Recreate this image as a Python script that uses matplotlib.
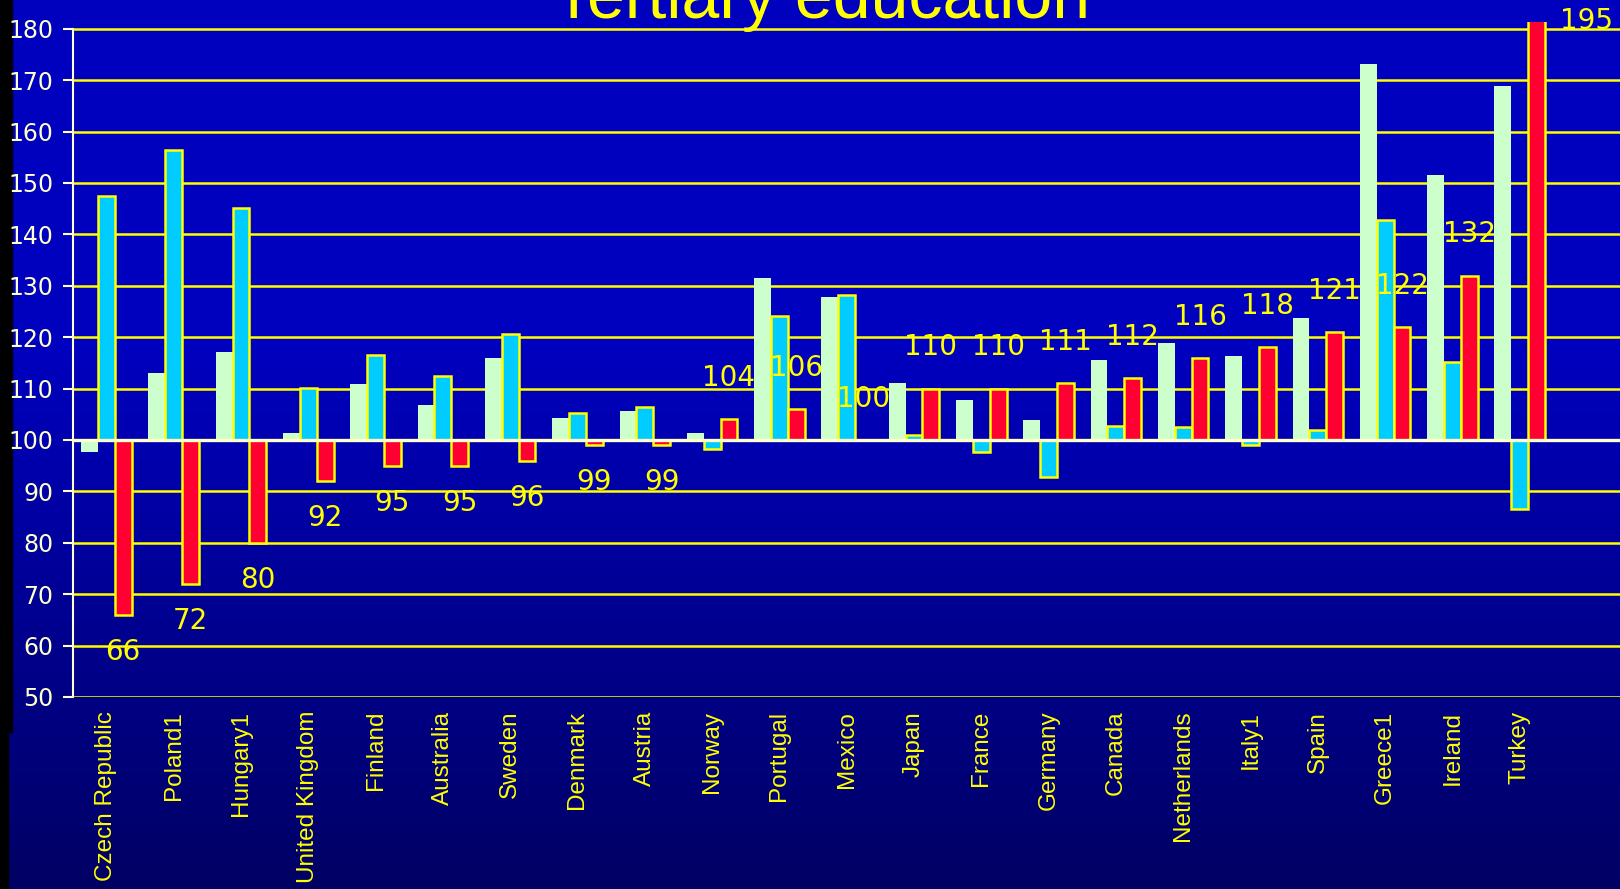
import numpy as np
import matplotlib
matplotlib.use("Agg")
import matplotlib.pyplot as plt
from matplotlib.patches import Rectangle

# country groups, left to right
countries = ["Czech Republic", "Poland1", "Hungary1", "United Kingdom", "Finland",
             "Australia", "Sweden", "Denmark", "Austria", "Norway", "Portugal",
             "Mexico", "Japan", "France", "Germany", "Canada", "Netherlands",
             "Italy1", "Spain", "Greece1", "Ireland", "Turkey"]

# index values (100 = baseline)
green_vals = [97.6, 113, 117.1, 101.3, 110.9, 106.8, 115.9, 104.2, 105.6, 101.3, 131.5,
              127.8, 111.0, 107.8, 103.9, 115.5, 118.9, 116.3, 123.8, 173.2, 151.6, 168.9]
cyan_vals = [147.5, 156.4, 145.1, 110.1, 116.5, 112.5, 120.6, 105.2, 106.4, 98.2, 124.2,
             128.3, 100.9, 97.7, 92.8, 102.8, 102.6, 99.0, 102.0, 142.8, 115.1, 86.5]
red_vals = [66, 72, 80, 92, 95, 95, 96, 99, 99, 104, 106,
            100, 110, 110, 111, 112, 116, 118, 121, 122, 132, 195]

yticks = list(range(50, 190, 10))

YELLOW = "#FFFF00"
CREAM = "#FFFFCC"

fig = plt.figure(figsize=(16.2, 8.89), dpi=100)

# background: blue gradient plus black strip on the left
bg = fig.add_axes([0, 0, 1, 1], zorder=-10)
bg.set_axis_off()
rows = np.linspace(0, 1, 400)
shade = np.where(rows < 0.39, 0.75, 0.75 - (rows - 0.39) / 0.61 * 0.36)
grad = np.zeros((400, 1, 3))
grad[:, 0, 2] = shade
bg.imshow(grad, aspect="auto", extent=[0, 1, 0, 1], origin="upper")
bg.add_patch(Rectangle((0, 1 - 732 / 889), 12 / 1620, 732 / 889, color="black"))
bg.add_patch(Rectangle((0, 0), 8 / 1620, 1 - 732 / 889, color="black"))
bg.set_xlim(0, 1)
bg.set_ylim(0, 1)

ax = fig.add_axes([0.0449, 0.216, 0.9551, 0.7597])
ax.set_facecolor("none")

x = np.arange(len(countries))
w = 0.25
base = 100
ax.bar(x - w, np.array(green_vals) - base, w, bottom=base, color="#CCFFCC",
       edgecolor="none", zorder=3)
ax.bar(x, np.array(cyan_vals) - base, w, bottom=base, color="#00CCFF",
       edgecolor=YELLOW, linewidth=1.8, zorder=3)
ax.bar(x + w, np.array(red_vals) - base, w, bottom=base, color="#FF0033",
       edgecolor=YELLOW, linewidth=1.8, zorder=3)

ax.set_ylim(50, 181.4)
ax.set_xlim(-0.5, 22.49)

# grid lines
for t in yticks:
    if t == 100:
        continue
    ax.axhline(t, color=YELLOW, lw=1.8, zorder=1)
ax.axhline(100, color=CREAM, lw=2.4, zorder=4)

# red value labels
top = ax.get_ylim()[1]
for xi, v in zip(x, red_vals):
    if v > top:
        # bar runs off the top: label sits at the upper right corner
        ax.text(xi + 0.99, 181.5, str(v), color=YELLOW, fontsize=20,
                ha="center", va="center", clip_on=False, zorder=5)
    else:
        ty = v + 8 if v >= 100 else v - 7.2
        ax.text(xi + w, ty, str(v), color=YELLOW, fontsize=20,
                ha="center", va="center", zorder=5)

ax.set_yticks(yticks)
ax.set_yticklabels([str(t) for t in yticks], color=CREAM, fontsize=17)
ax.tick_params(axis="y", colors=CREAM, length=7, width=1.5, direction="out", pad=7)

ax.set_xticks(x)
ax.set_xticklabels(countries, rotation=90, color=YELLOW, fontsize=17.5,
                   family="Liberation Sans")
ax.tick_params(axis="x", length=0, pad=10)

for s in ["top", "right", "bottom"]:
    ax.spines[s].set_visible(False)
ax.spines["left"].set_color(CREAM)
ax.spines["left"].set_linewidth(1.5)
ax.spines["left"].set_bounds(50, 180)

fig.text(0.507, 1 - 18 / 889, "Tertiary education", color=YELLOW, fontsize=49,
         family="Liberation Sans", ha="center", va="baseline")

fig.savefig("out.png", dpi=100)
